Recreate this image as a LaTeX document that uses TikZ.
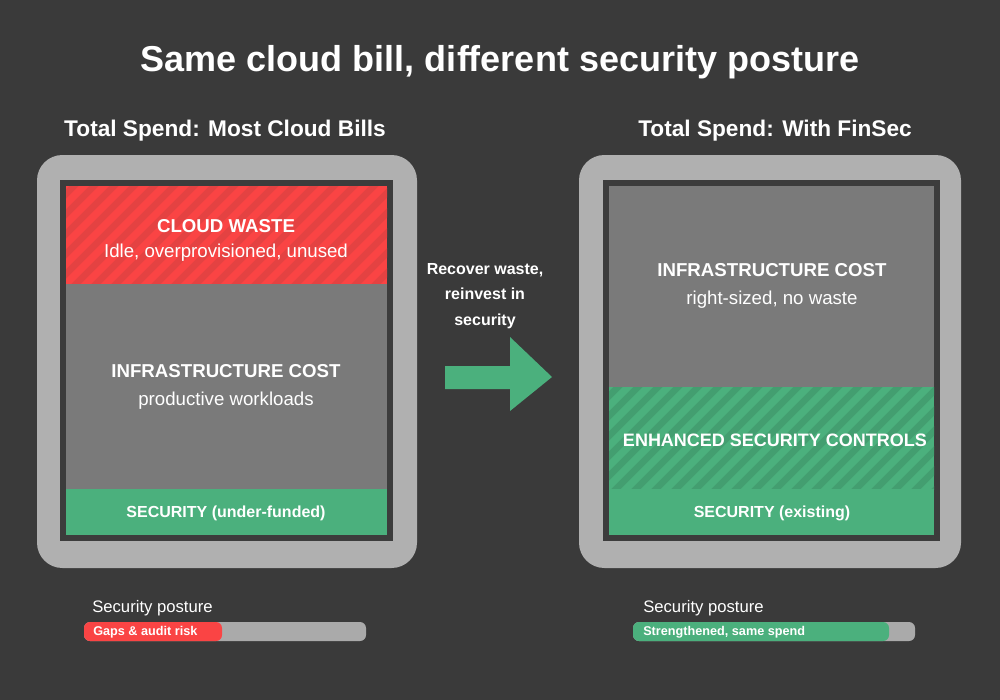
\documentclass[tikz,border=0pt]{standalone}
\usepackage{fontspec}
\setmainfont{Liberation Sans}
\begin{document}
\begin{tikzpicture}[x=0.75pt,y=-0.75pt,
  txt/.style={text=white,align=center,inner sep=0},
  hdr/.style={txt,font=\bfseries\fontsize{17}{20}\selectfont},
  lab/.style={txt,font=\bfseries\fontsize{14}{17}\selectfont},
  sub/.style={txt,font=\fontsize{14}{16}\selectfont},
  outer/.style={fill={rgb,255:red,176;green,176;blue,176},rounded corners=19pt},
  inner/.style={fill={rgb,255:red,60;green,60;blue,60}},
  stripe/.style={line width=5pt}]
\definecolor{bg}{RGB}{58,58,58}
\definecolor{wred}{RGB}{250,68,68}
\definecolor{wredd}{RGB}{228,66,66}
\definecolor{igray}{RGB}{122,122,122}
\definecolor{sgreen}{RGB}{75,176,125}
\definecolor{sgreend}{RGB}{67,158,112}
\definecolor{bargray}{RGB}{170,170,170}
\fill[bg] (0,0) rectangle (1000,700);
\useasboundingbox (0,0) rectangle (1000,700);
\node[txt,font=\bfseries\fontsize{27}{32}\selectfont] (title) at (500,62) {Same cloud bill, different security posture};
% left panel
\node[hdr] (lh) at (225,131) {Total Spend: Most Cloud Bills};
\fill[outer] (37,155) rectangle (417,568);
\fill[inner] (60,180) rectangle (393,541);
\fill[wred] (66,186) rectangle (387,284);
\begin{scope}
\clip (66,186) rectangle (387,284);
\foreach \i in {0,...,28} \draw[wredd,stripe] (-100+20*\i,300) -- (-100+20*\i+130,170);
\end{scope}
\fill[igray] (66,284) rectangle (387,489);
\fill[sgreen] (66,489) rectangle (387,535);
\node[lab] (cw) at (226,226) {CLOUD WASTE};
\node[sub] (cws) at (226,253) {Idle, overprovisioned, unused};
\node[lab] (ic) at (226,371) {INFRASTRUCTURE COST};
\node[sub] (ics) at (226,401) {productive workloads};
\node[lab,font=\bfseries\fontsize{12}{14}\selectfont] (sec) at (226,513) {SECURITY (under-funded)};
% right panel
\node[hdr] (rh) at (775,131) {Total Spend: With FinSec};
\fill[outer] (579,155) rectangle (961,568);
\fill[inner] (603,180) rectangle (940,541);
\fill[igray] (609,186) rectangle (934,387);
\fill[sgreen] (609,387) rectangle (934,489);
\begin{scope}
\clip (609,387) rectangle (934,489);
\foreach \i in {0,...,28} \draw[sgreend,stripe] (440+20*\i,505) -- (440+20*\i+130,375);
\end{scope}
\fill[sgreen] (609,489) rectangle (934,535);
\node[lab] (ric) at (772,270) {INFRASTRUCTURE COST};
\node[sub] (rics) at (772,300) {right-sized, no waste};
\node[lab,font=\bfseries\fontsize{13.5}{16}\selectfont] (enh) at (775,440) {ENHANCED SECURITY CONTROLS};
\node[lab,font=\bfseries\fontsize{12}{14}\selectfont] (rsec) at (772,513) {SECURITY (existing)};
% arrow
\node[txt,font=\bfseries\fontsize{12}{19}\selectfont] (al) at (485,296) {Recover waste,\\reinvest in\\security};
\fill[sgreen] (445,366) -- (510,366) -- (510,337) -- (552,377) -- (510,411) -- (510,389) -- (445,389) -- cycle;
% bars
\node[txt,anchor=west,font=\fontsize{12.5}{15}\selectfont] (lp) at (92,608) {Security posture};
\fill[bargray,rounded corners=4.5pt] (84,622) rectangle (366,641);
\fill[wred,rounded corners=4.5pt] (84,622) rectangle (222,641);
\node[txt,anchor=west,font=\bfseries\fontsize{9.5}{11}\selectfont] (lb) at (93,632) {Gaps \& audit risk};
\node[txt,anchor=west,font=\fontsize{12.5}{15}\selectfont] (rp) at (643,608) {Security posture};
\fill[bargray,rounded corners=4.5pt] (633,622) rectangle (915,641);
\fill[sgreen,rounded corners=4.5pt] (633,622) rectangle (889,641);
\node[txt,anchor=west,font=\bfseries\fontsize{9.5}{11}\selectfont] (rb) at (643,632) {Strengthened, same spend};
\end{tikzpicture}
\end{document}
